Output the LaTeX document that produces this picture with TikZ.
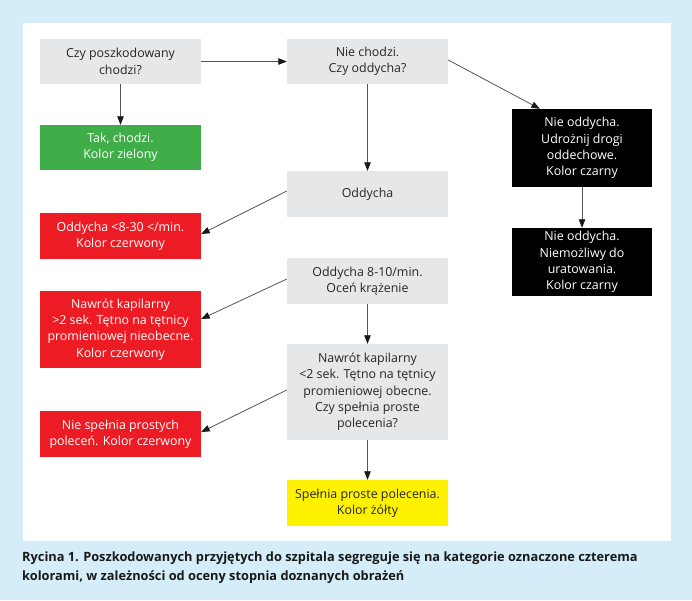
\documentclass[tikz,border=0pt]{standalone}
\usepackage{fontspec}
\setmainfont{Open Sans}
\usetikzlibrary{arrows.meta,calc}
\definecolor{bgblue}{HTML}{D4EDF9}
\definecolor{boxgrey}{HTML}{E6E7E8}
\definecolor{boxgreen}{HTML}{3FAE49}
\definecolor{boxred}{HTML}{ED1C24}
\definecolor{boxyellow}{HTML}{FFF200}
\definecolor{arrowgrey}{HTML}{555555}
\tikzset{
  box/.style={minimum width=161pt, inner sep=0pt, align=center,
    font=\fontsize{12.4}{16.3}\selectfont, text=black!85},
  greybox/.style={box, fill=boxgrey},
  greenbox/.style={box, fill=boxgreen, text=white},
  redbox/.style={box, fill=boxred, text=white},
  blackbox/.style={box, fill=black, text=white, minimum width=140pt},
  yellowbox/.style={box, fill=boxyellow},
  conn/.style={draw=arrowgrey, line width=0.8pt, -{Triangle[length=8.5pt,width=6.5pt,color=black!90]}},
}
\begin{document}
\begin{tikzpicture}[x=1pt,y=-1pt]
\fill[bgblue] (0,0) rectangle (692,600);
\fill[white] (23,23) rectangle (671,541);
\useasboundingbox (0,0) rectangle (692,600);

\node[greybox, minimum height=45pt] (walk) at (120.5,61.5) {Czy poszkodowany\\chodzi?};
\node[greenbox, minimum height=45pt] (yes) at (120.5,147.5) {Tak, chodzi.\\Kolor zielony};
\node[greybox, minimum height=45pt] (nowalk) at (367.5,61.5) {Nie chodzi.\\Czy oddycha?};
\node[greybox, minimum height=46pt] (breath) at (367.5,194) {Oddycha};
\node[redbox, minimum height=46pt] (red1) at (120.5,236) {Oddycha <8-30 </min.\\Kolor czerwony};
\node[greybox, minimum height=46pt] (rate) at (367.5,281) {Oddycha 8-10/min.\\Oceń krążenie};
\node[redbox, minimum height=77pt] (red2) at (120.5,329.5) {Nawrót kapilarny\\>2 sek. Tętno na tętnicy\\promieniowej nieobecne.\\Kolor czerwony};
\node[greybox, minimum height=96pt] (cap) at (367.5,392) {Nawrót kapilarny\\<2 sek. Tętno na tętnicy\\promieniowej obecne.\\Czy spełnia proste\\polecenia?};
\node[redbox, minimum height=46pt] (red3) at (120.5,434) {Nie spełnia prostych\\poleceń. Kolor czerwony};
\node[yellowbox, minimum height=46pt] (yellow) at (367.5,503) {Spełnia proste polecenia.\\Kolor żółty};
\node[blackbox, minimum height=78pt] (black1) at (582,148) {Nie oddycha.\\Udrożnij drogi\\oddechowe.\\Kolor czarny};
\node[blackbox, minimum height=68pt] (black2) at (582,262) {Nie oddycha.\\Niemożliwy do\\uratowania.\\Kolor czarny};

\draw[conn] (walk) -- (nowalk);
\draw[conn] (walk) -- (yes);
\draw[conn] (nowalk) -- (breath);
\draw[conn] ($(nowalk.east)+(0,-1.5)$) -- ($(black1.north west)!0.2!(black1.north east)$);
\draw[conn] (black1) -- (black2);
\draw[conn] ($(breath.west)+(0,-3)$) -- ($(red1.east)+(0,-2)$);
\draw[conn] (rate) -- (cap);
\draw[conn] ($(rate.west)+(0,-2)$) -- ($(red2.east)+(0,-10.5)$);
\draw[conn] ($(cap.west)+(0,-2)$) -- ($(red3.east)+(0,-2)$);
\draw[conn] (cap) -- (yellow);

\node[anchor=north west, align=left, inner sep=0pt, font=\bfseries\fontsize{12.8}{19}\selectfont, text=black!90] (caption) at (22,552)
  {Rycina 1. Poszkodowanych przyjętych do szpitala segreguje się na kategorie oznaczone czterema\\kolorami, w zależności od oceny stopnia doznanych obrażeń};
\end{tikzpicture}
\end{document}
